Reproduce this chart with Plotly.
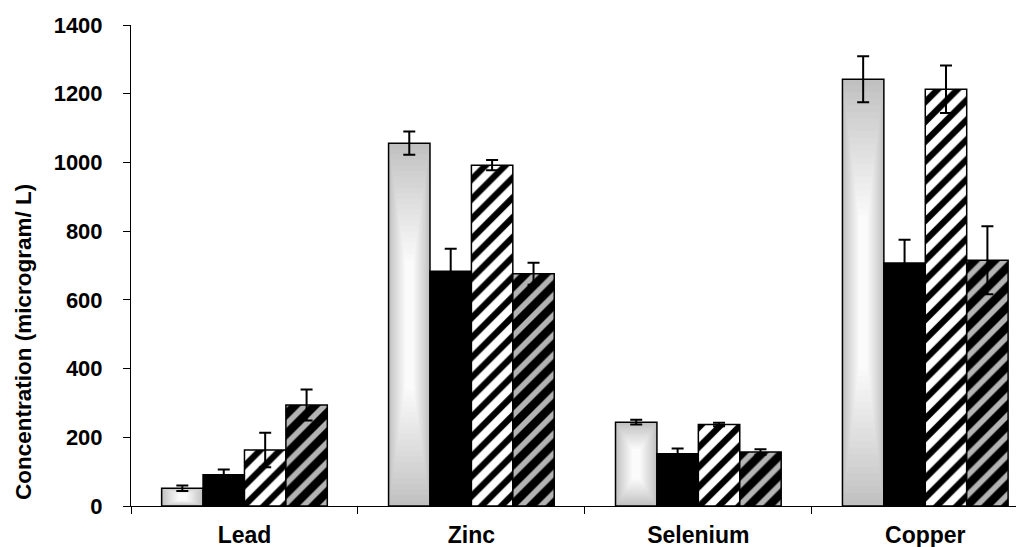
import math
import plotly.graph_objects as go

# ---- data ----
categories = ["Lead", "Zinc", "Selenium", "Copper"]
series_names = ["Series 1", "Series 2", "Series 3", "Series 4"]
s1_values = [52, 1056, 244, 1242]
s1_errors = [8, 34, 7, 67]
s2_values = [91, 683, 152, 707]
s2_errors = [15, 66, 15, 68]
s3_values = [163, 992, 237, 1213]
s3_errors = [50, 15, 5, 69]
s4_values = [294, 676, 157, 715]
s4_errors = [45, 32, 8, 99]
y_ticks = [0, 200, 400, 600, 800, 1000, 1200, 1400]

# ---- layout constants (page body has an 8px margin) ----
W, H = 1024, 547
ML, MR, MT, MB = 123, 8, 17, 49
group_width = 0.73
bw = group_width / 4
offsets = [-group_width / 2 + i * bw for i in range(4)]
outline = dict(color="black", width=1.5)
err_style = dict(color="black", thickness=2, width=6, visible=True, type="data")

fig = go.Figure()

# Series 1: soft grey-to-white glow (simulated with nested rectangles)
N = 22
for k in range(N):
    t = k / (N - 1)
    wf = 1 - 0.8 * t
    wk = bw * wf
    half = 0.5 - 0.32 * t
    lo, hi = 0.5 - half, 0.5 + half
    g = int(192 + (251 - 192) * t ** 0.9)
    fig.add_trace(go.Bar(
        x=categories,
        base=[v * lo for v in s1_values],
        y=[v * (hi - lo) for v in s1_values],
        width=wk,
        offset=offsets[0] + (bw - wk) / 2,
        marker=dict(color=f"rgb({g},{g},{g})", line=dict(width=0)),
        showlegend=False, hoverinfo="skip",
    ))
# outline + error bars for series 1
fig.add_trace(go.Bar(
    x=categories, y=s1_values, name=series_names[0], width=bw, offset=offsets[0],
    marker=dict(color="rgba(0,0,0,0)", line=outline),
    error_y=dict(array=s1_errors, **err_style),
))
# Series 2: solid black
fig.add_trace(go.Bar(
    x=categories, y=s2_values, name=series_names[1], width=bw, offset=offsets[1],
    marker=dict(color="black", line=outline),
    error_y=dict(array=s2_errors, **err_style),
))
# Series 3: white with black diagonal stripes
fig.add_trace(go.Bar(
    x=categories, y=s3_values, name=series_names[2], width=bw, offset=offsets[2],
    marker=dict(color="white", line=outline,
                pattern=dict(shape="/", fgcolor="black", bgcolor="white",
                             size=14, solidity=0.45, fillmode="replace")),
    error_y=dict(array=s3_errors, **err_style),
))
# Series 4: black with grey diagonal stripes
fig.add_trace(go.Bar(
    x=categories, y=s4_values, name=series_names[3], width=bw, offset=offsets[3],
    marker=dict(color="black", line=outline,
                pattern=dict(shape="/", fgcolor="#b4b4b4", bgcolor="black",
                             size=14, solidity=0.4, fillmode="replace")),
    error_y=dict(array=s4_errors, **err_style),
))

font_family = "Liberation Sans, Arial, sans-serif"
plot_w = W - ML - MR
plot_h = H - MT - MB

fig.update_layout(
    width=W, height=H, autosize=False,
    margin=dict(l=ML, r=MR, t=MT, b=MB, pad=0, autoexpand=False),
    barmode="overlay",
    showlegend=False,
    plot_bgcolor="white", paper_bgcolor="white",
    font=dict(family=font_family, color="black"),
    xaxis=dict(
        type="category", categoryorder="array", categoryarray=categories,
        range=[-0.5, 3.435],
        showline=True, linecolor="black", linewidth=1,
        ticks="outside", tickson="boundaries", ticklen=7, tickcolor="black", tickwidth=1,
        tickfont=dict(size=23, family=font_family, weight="bold", color="black"),
        ticklabelstandoff=8,
        showgrid=False, zeroline=False, automargin=False,
    ),
    yaxis=dict(
        range=[0, 1400],
        tickvals=y_ticks,
        showline=True, linecolor="black", linewidth=1,
        ticks="outside", ticklen=7, tickcolor="black", tickwidth=1,
        tickfont=dict(size=22, family=font_family, weight="bold", color="black"),
        ticklabelstandoff=16,
        showgrid=False, zeroline=False, automargin=False,
    ),
    annotations=[dict(
        text="Concentration (microgram/ L)",
        xref="paper", yref="paper",
        x=(15 - ML) / plot_w, y=(H - MB - 334) / plot_h,
        xanchor="center", yanchor="middle", textangle=-90, showarrow=False,
        font=dict(size=22.5, family=font_family, weight="bold", color="black"),
    )],
)

fig.write_html("out.html")
